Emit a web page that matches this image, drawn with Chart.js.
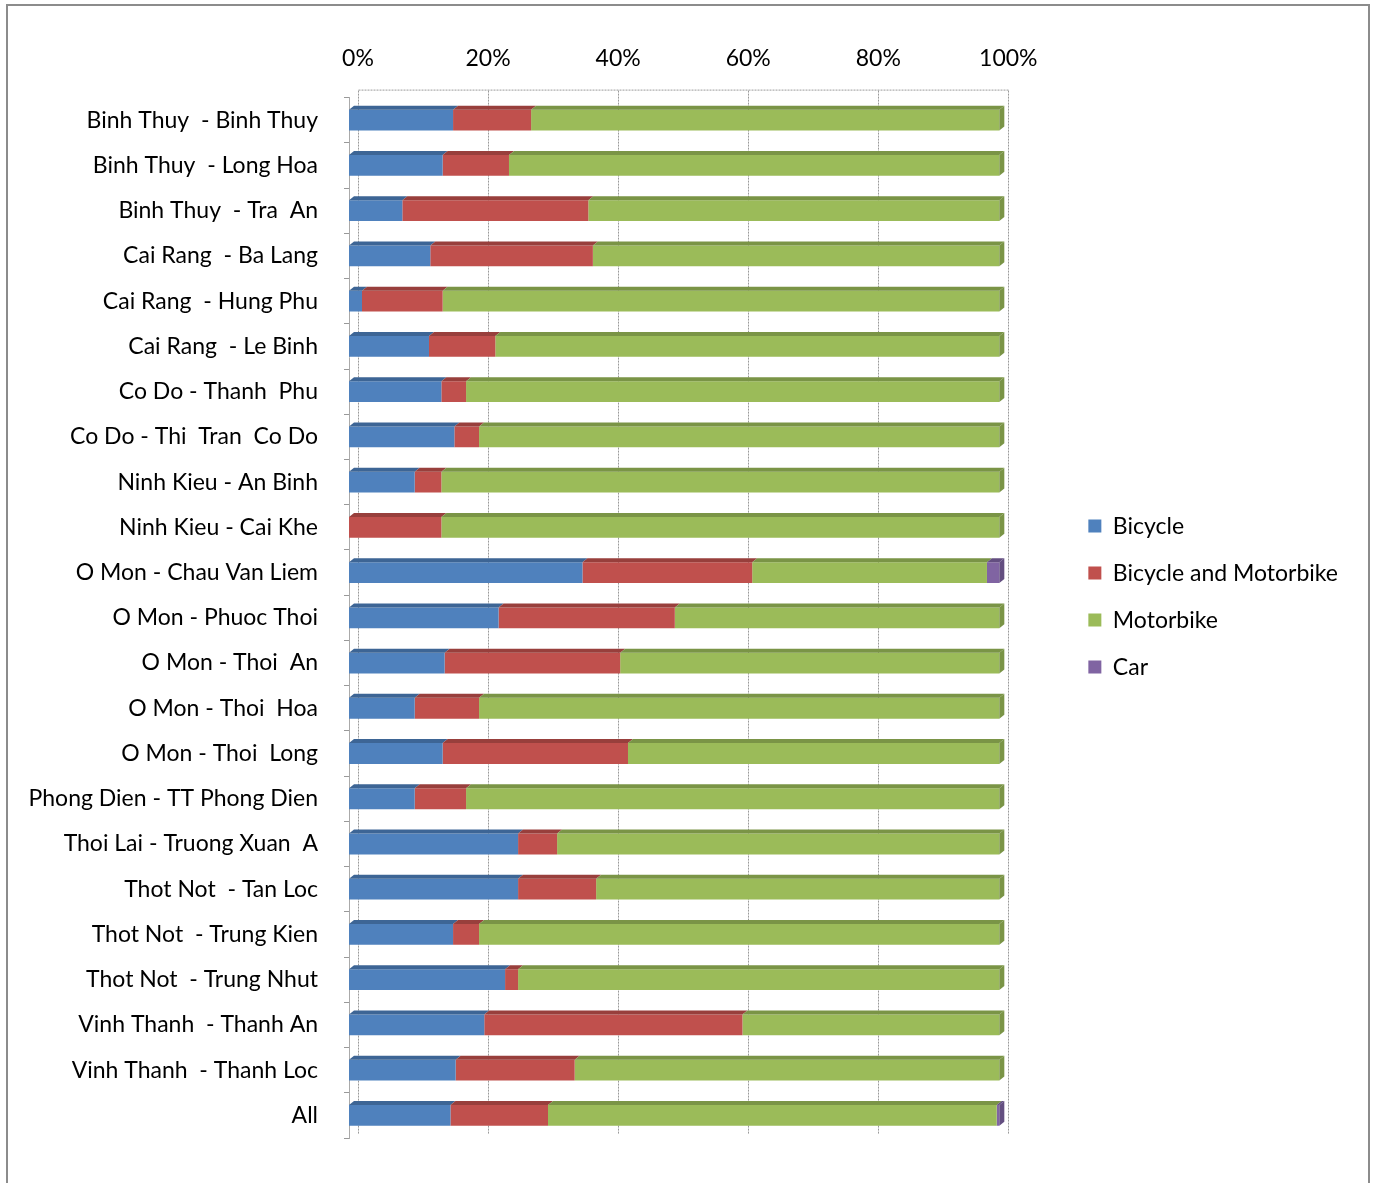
<!DOCTYPE html>
<html>
<head>
<meta charset="utf-8">
<script src="https://cdn.jsdelivr.net/npm/chart.js@4/dist/chart.umd.min.js"></script>
<style>
  body { margin: 0; background: #fff; }
  #wrap { position: relative; width: 1377px; height: 1183px; }
</style>
</head>
<body>
<div id="wrap"><canvas id="chartId"></canvas></div>
<script>
const categories = [
  "Binh Thuy  - Binh Thuy", "Binh Thuy  - Long Hoa", "Binh Thuy  - Tra  An",
  "Cai Rang  - Ba Lang", "Cai Rang  - Hung Phu", "Cai Rang  - Le Binh",
  "Co Do - Thanh  Phu", "Co Do - Thi  Tran  Co Do", "Ninh Kieu - An Binh",
  "Ninh Kieu - Cai Khe", "O Mon - Chau Van Liem", "O Mon - Phuoc Thoi",
  "O Mon - Thoi  An", "O Mon - Thoi  Hoa", "O Mon - Thoi  Long",
  "Phong Dien - TT Phong Dien", "Thoi Lai - Truong Xuan  A", "Thot Not  - Tan Loc",
  "Thot Not  - Trung Kien", "Thot Not  - Trung Nhut", "Vinh Thanh  - Thanh An",
  "Vinh Thanh  - Thanh Loc", "All"
];
const bicycle   = [16, 14.4, 8.2, 12.5, 2, 12.3, 14.2, 16.2, 10.1, 0, 35.9, 23, 14.7, 10.1, 14.4, 10.1, 26, 26, 16, 24, 20.8, 16.4, 15.6];
const bikeMoto  = [12, 10.2, 28.6, 25, 12.4, 10.2, 3.8, 3.8, 4.1, 14.2, 26.1, 27.1, 27, 9.9, 28.5, 7.9, 6, 12, 4, 2, 39.7, 18.3, 15];
const motorbike = [72, 75.4, 63.2, 62.5, 85.6, 77.5, 82, 80, 85.8, 85.8, 36.1, 49.9, 58.3, 80, 57.1, 82, 68, 62, 80, 74, 39.5, 65.3, 69];
const car       = [0, 0, 0, 0, 0, 0, 0, 0, 0, 0, 1.9, 0, 0, 0, 0, 0, 0, 0, 0, 0, 0, 0, 0.4];
const xTicks = [0, 20, 40, 60, 80, 100];

const topColors = ["#3d6595", "#983f3c", "#7a9446", "#634e80"];
const DX = 5, DY = 4;

// frame, back-wall grid and the 3D top/side faces of the bars
const fakeDepth = {
  id: "fakeDepth",
  beforeDraw(chart) {
    const c = chart.ctx;
    c.save();
    c.strokeStyle = "#8c8c8c";
    c.lineWidth = 2;
    c.strokeRect(7, 5, 1362, 1200);
    c.restore();
  },
  beforeDatasetsDraw(chart) {
    const c = chart.ctx, a = chart.chartArea, x = chart.scales.x;
    c.save();
    c.strokeStyle = "#9a9a9a";
    c.lineWidth = 1;
    c.setLineDash([2, 1]);
    xTicks.forEach((v) => {
      const px = Math.round(x.getPixelForValue(v)) + 9.5;
      c.beginPath();
      c.moveTo(px, a.top - 7);
      c.lineTo(px, a.bottom - 4);
      c.stroke();
    });
    c.beginPath();
    c.moveTo(x.getPixelForValue(0) + 9.5, a.top - 7.5);
    c.lineTo(x.getPixelForValue(100) + 9.5, a.top - 7.5);
    c.stroke();
    c.restore();
  },
  afterDatasetsDraw(chart) {
    const c = chart.ctx;
    const metas = chart.data.datasets.map((d, i) => chart.getDatasetMeta(i));
    c.save();
    categories.forEach((cat, j) => {
      let last = -1;
      metas.forEach((m, i) => {
        const el = m.data[j];
        if (chart.data.datasets[i].data[j] <= 0) return;
        const top = el.y - el.height / 2;
        c.fillStyle = topColors[i];
        c.beginPath();
        c.moveTo(el.base, top);
        c.lineTo(el.x, top);
        c.lineTo(el.x + DX, top - DY);
        c.lineTo(el.base + DX, top - DY);
        c.closePath();
        c.fill();
        last = i;
      });
      if (last >= 0) {
        const el = metas[last].data[j];
        const top = el.y - el.height / 2, bot = el.y + el.height / 2;
        c.fillStyle = topColors[last];
        c.beginPath();
        c.moveTo(el.x, top);
        c.lineTo(el.x + DX, top - DY);
        c.lineTo(el.x + DX, bot - DY);
        c.lineTo(el.x, bot);
        c.closePath();
        c.fill();
      }
    });
    c.restore();
  }
};

const font = { family: "Lato, 'Open Sans', sans-serif", size: 23 };

const ctx = document.getElementById("chartId").getContext("2d");
new Chart(ctx, {
  type: "bar",
  data: {
    labels: categories,
    datasets: [
      { label: "Bicycle", data: bicycle, backgroundColor: "#4f81bd" },
      { label: "Bicycle and Motorbike", data: bikeMoto, backgroundColor: "#c0504d" },
      { label: "Motorbike", data: motorbike, backgroundColor: "#9bbb59" },
      { label: "Car", data: car, backgroundColor: "#8064a2" },
    ],
  },
  options: {
    indexAxis: "y",
    responsive: true,
    maintainAspectRatio: false,
    animation: false,
    categoryPercentage: 1,
    barPercentage: 0.46,
    layout: { padding: { left: 9, top: 28, right: 29, bottom: 45 } },
    plugins: {
      tooltip: { enabled: false },
      legend: {
        position: "right",
        title: { display: true, text: "", font: { size: 1 }, padding: { top: 0, bottom: 26 } },
        labels: { boxWidth: 13, boxHeight: 13, padding: 24, color: "#000", font: font },
      },
    },
    scales: {
      x: {
        stacked: true,
        position: "top",
        min: 0,
        max: 110,
        afterBuildTicks: (s) => { s.ticks = xTicks.map((v) => ({ value: v })); },
        grid: { display: false },
        border: { display: false },
        ticks: { color: "#000", font: font, padding: 17, labelOffset: 9, callback: (v) => v + "%" },
      },
      y: {
        stacked: true,
        afterFit: (s) => { s.width = 340; },
        grid: { drawOnChartArea: false, tickLength: 5, color: "#999" },
        border: { display: true, color: "#aaa" },
        ticks: { color: "#000", font: font, padding: 26, autoSkip: false },
      },
    },
  },
  plugins: [fakeDepth],
});
</script>
</body>
</html>
